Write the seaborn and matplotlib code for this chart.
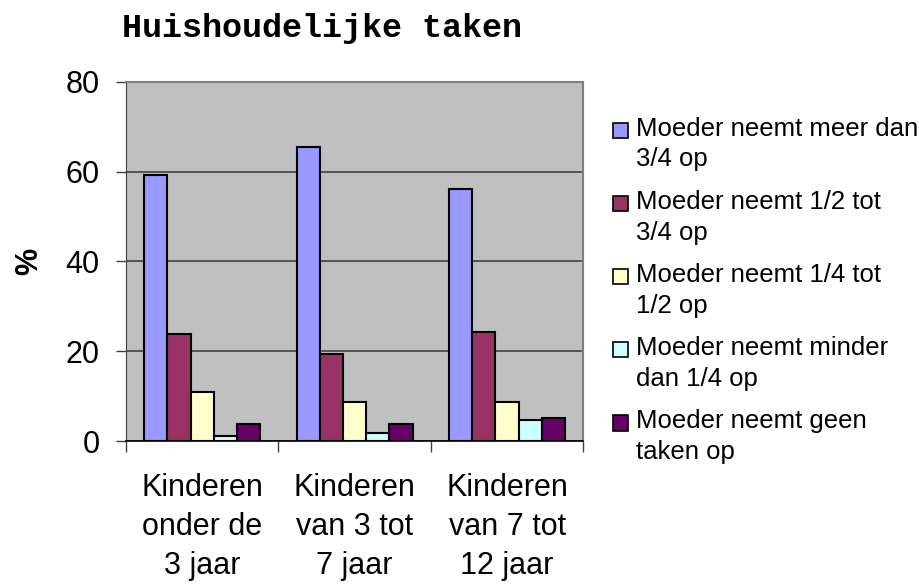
import textwrap
import pandas as pd
import matplotlib
matplotlib.use("Agg")
import matplotlib.pyplot as plt
import seaborn as sns
from matplotlib.legend_handler import HandlerPatch
from matplotlib.patches import Rectangle

categories = ["Kinderen\nonder de\n3 jaar", "Kinderen\nvan 3 tot\n7 jaar", "Kinderen\nvan 7 tot\n12 jaar"]
series = [
    "Moeder neemt meer dan 3/4 op",
    "Moeder neemt 1/2 tot 3/4 op",
    "Moeder neemt 1/4 tot 1/2 op",
    "Moeder neemt minder dan 1/4 op",
    "Moeder neemt geen taken op",
]
meer_dan_3_4 = [59.3, 65.6, 56.2]
half_tot_3_4 = [23.8, 19.3, 24.2]
kwart_tot_half = [11.0, 8.7, 8.7]
minder_dan_kwart = [1.1, 1.7, 4.7]
geen_taken = [3.8, 3.8, 5.1]
colors = ["#9999FF", "#993366", "#FFFFCC", "#CCFFFF", "#660066"]

values = [meer_dan_3_4, half_tot_3_4, kwart_tot_half, minder_dan_kwart, geen_taken]
rows = []
for s, vals in zip(series, values):
    for c, v in zip(categories, vals):
        rows.append({"groep": c, "reeks": s, "pct": v})
df = pd.DataFrame(rows)

sns.set_style("white")
plt.rcParams["font.family"] = ["Liberation Sans", "DejaVu Sans"]
plt.rcParams["text.color"] = "black"
plt.rcParams["axes.labelcolor"] = "black"
plt.rcParams["xtick.color"] = "black"
plt.rcParams["ytick.color"] = "black"

fig = plt.figure(figsize=(9.2, 5.85), dpi=100)
ax = fig.add_axes([0.137, 0.246, 0.497, 0.614])
ax.set_facecolor("#C0C0C0")

sns.barplot(data=df, x="groep", y="pct", hue="reeks", hue_order=series,
            palette=colors, edgecolor="black", linewidth=1.5, width=0.76,
            saturation=1, ax=ax)

ax.set_ylim(0, 80)
ax.set_xlim(-0.5, 2.5)
ax.set_yticks([0, 20, 40, 60, 80])
ax.yaxis.grid(True, color="#404040", linewidth=1.2)
ax.set_axisbelow(True)
ax.tick_params(axis="y", labelsize=22, length=7, width=1, color="#404040", left=True, pad=12)
ax.set_xticks(range(3))
ax.set_xticklabels(categories, fontsize=22, linespacing=1.38)
ax.tick_params(axis="x", length=0, pad=23)
ax.set_xticks([-0.5, 0.5, 1.5, 2.5], minor=True)
ax.tick_params(axis="x", which="minor", length=8, width=1, color="#404040", bottom=True)
ax.set_xlabel("")
ax.set_ylabel("%", fontsize=22, fontweight="bold", labelpad=15)

for side in ["top", "right"]:
    ax.spines[side].set_color("#808080")
    ax.spines[side].set_linewidth(1.5)
ax.spines["left"].set_color("#404040")
ax.spines["bottom"].set_color("black")
ax.spines["bottom"].set_linewidth(1.2)

fig.text(0.133, 0.952, "Huishoudelijke taken", family="Liberation Mono",
         fontweight="bold", fontsize=24, ha="left", va="center")


def top_square(legend, orig_handle, xdescent, ydescent, width, height, fontsize):
    size = 11
    return Rectangle((-xdescent, -ydescent + height - size + 2), size, size)


handles, _ = ax.get_legend_handles_labels()
labels = [textwrap.fill(s, 21) for s in series]
ax.get_legend().remove()
leg = fig.legend(handles, labels, loc="upper left", bbox_to_anchor=(0.641, 0.84),
                 frameon=False, fontsize=18.5, handlelength=0.6, handleheight=2.0,
                 handletextpad=0.3, labelspacing=0.72,
                 handler_map={Rectangle: HandlerPatch(patch_func=top_square)})
for t in leg.get_texts():
    t.set_linespacing(1.35)
for p in leg.get_patches():
    p.set_edgecolor("black")
    p.set_linewidth(1.2)

fig.savefig("out.png", dpi=100)
